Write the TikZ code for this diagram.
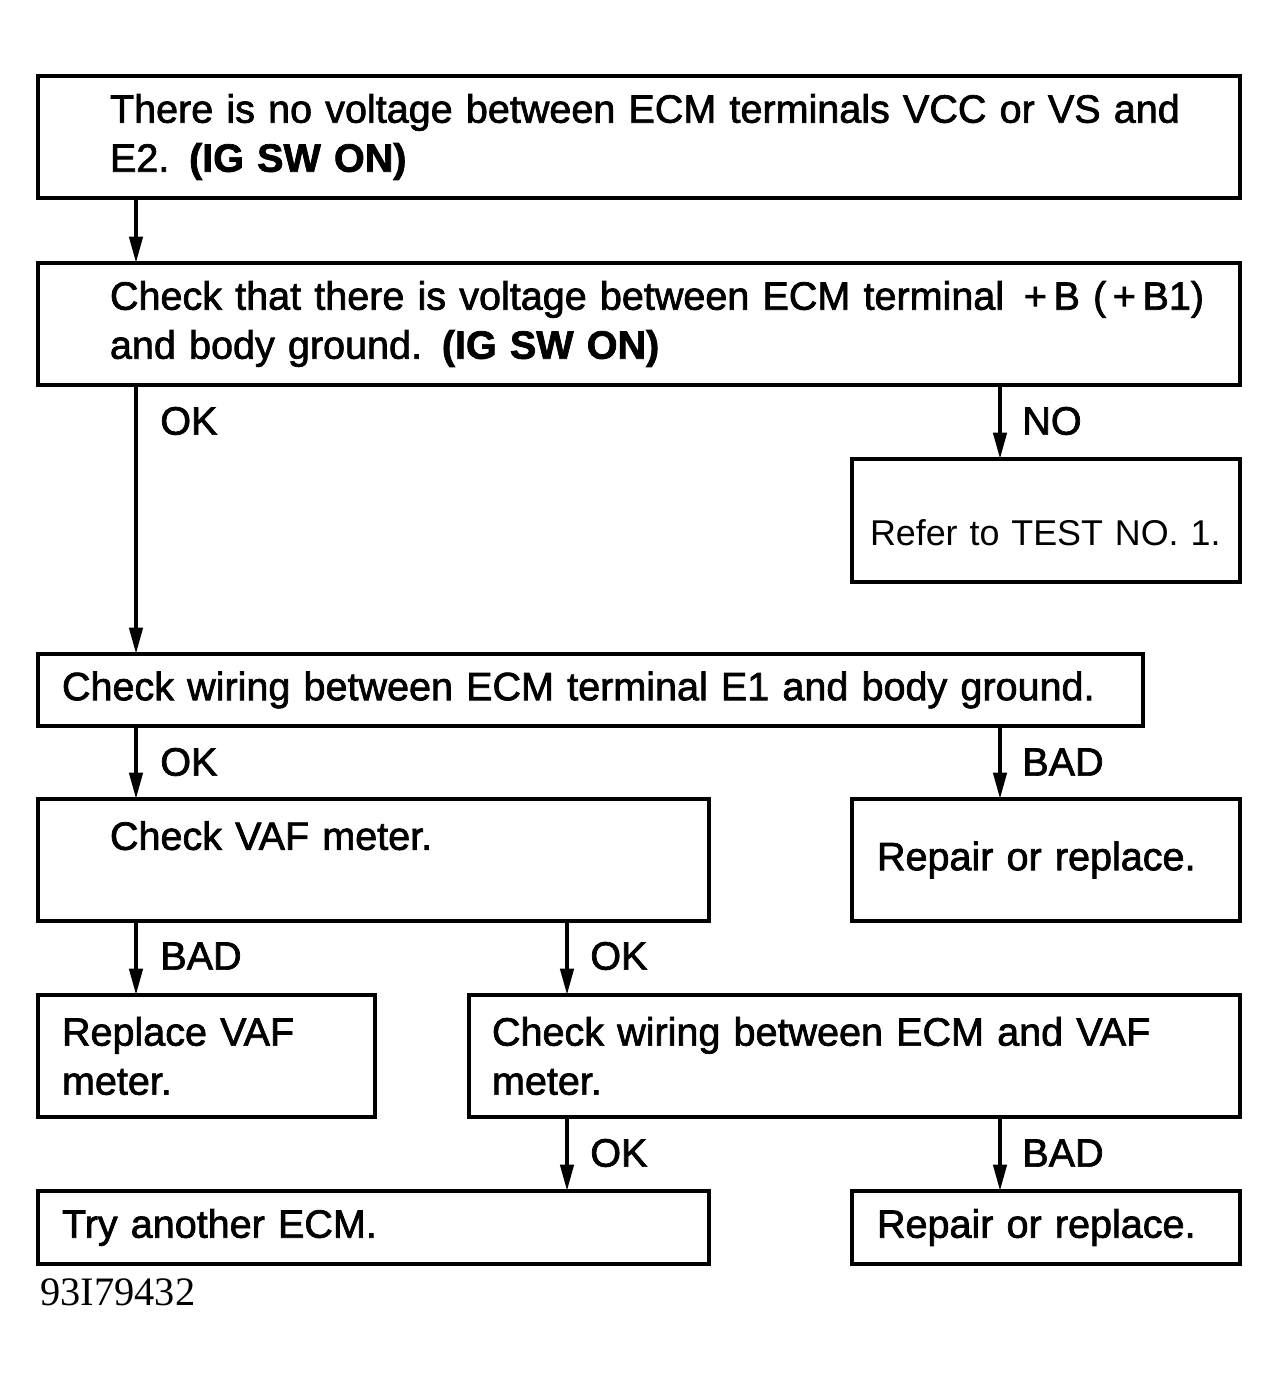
\documentclass[tikz,border=0pt]{standalone}
\usepackage{fontspec}
\usetikzlibrary{arrows.meta}
\newfontfamily\chartfont{Liberation Sans}[FakeBold=1.8]
\newfontfamily\thinfont{Liberation Sans}
\newfontfamily\idfont{Liberation Serif}

\begin{document}
\begin{tikzpicture}[x=0.02cm,y=-0.02cm,
    box/.style n args={4}{draw,black,line width=2.2pt,anchor=north west,align=left,
      inner ysep=0pt,outer sep=0pt,minimum width=#1cm,minimum height=#2cm,
      inner xsep=#3cm,text width=#4cm,font=\chartfont\fontsize{22.5}{27.9}\selectfont},
    arr/.style={black,line width=2.2pt,-{Triangle[length=15pt,width=7.5pt]}},
    lbl/.style={anchor=west,inner sep=0pt,font=\chartfont\fontsize{22.5}{27}\selectfont}]
                    \useasboundingbox (0,0) rectangle (1280,1380);
                    % boxes
                    \node[box={24.04}{2.44}{1.44}{21.16}] (b1) at (38,76)
                        {\mbox{There is no voltage between ECM terminals VCC or VS and}\\E2. \textbf{(IG SW ON)}};
                    \node[box={24.04}{2.44}{1.44}{21.16}] (b2) at (38,263)
                        {\mbox{Check that there is voltage between ECM terminal \,+\,B (\,+\,B1)}\\and body ground. \textbf{(IG SW ON)}};
                    \node[box={7.76}{2.46}{0.36}{7.04},font=\thinfont\fontsize{20.4}{25}\selectfont] (b3) at (852,459)
                        {\raisebox{-0.24cm}[\height][\depth]{\mbox{Refer to TEST NO. 1.}}};
                    \node[box={22.10}{1.44}{0.48}{21.14}] (b4) at (38,654)
                        {\mbox{Check wiring between ECM terminal E1 and body ground.}};
                    \node[box={13.42}{2.44}{1.44}{10.54}] (b5) at (38,799)
                        {Check VAF meter.\\\mbox{}};
                    \node[box={7.76}{2.44}{0.50}{6.76}] (b6) at (852,799)
                        {Repair or replace.};
                    \node[box={6.74}{2.44}{0.48}{5.78}] (b7) at (38,995)
                        {Replace VAF\\meter.};
                    \node[box={15.42}{2.44}{0.46}{14.50}] (b8) at (469,995)
                        {Check wiring between ECM and VAF\\meter.};
                    \node[box={13.42}{1.46}{0.48}{12.46}] (b9) at (38,1191)
                        {Try another ECM.};
                    \node[box={7.76}{1.46}{0.50}{6.76}] (b10) at (852,1191)
                        {Repair or replace.};

                    % connector columns
                    \coordinate (cL) at (136,0);
                    \coordinate (cM) at (567,0);
                    \coordinate (cR) at (1000,0);

                    \draw[arr] (b1.south -| cL) -- (b2.north -| cL);
                    \draw[arr] (b2.south -| cL) -- (b4.north -| cL);
                    \draw[arr] (b2.south -| cR) -- (b3.north -| cR);
                    \draw[arr] (b4.south -| cL) -- (b5.north -| cL);
                    \draw[arr] (b4.south -| cR) -- (b6.north -| cR);
                    \draw[arr] (b5.south -| cL) -- (b7.north -| cL);
                    \draw[arr] (b5.south -| cM) -- (b8.north -| cM);
                    \draw[arr] (b8.south -| cM) -- (b9.north -| cM);
                    \draw[arr] (b8.south -| cR) -- (b10.north -| cR);

                    % labels
                    \node[lbl] (okA) at (160,421) {OK};
                    \node[lbl] (noA) at (1022,421) {NO};
                    \node[lbl] (okB) at (160,762) {OK};
                    \node[lbl] (badB) at (1022,762) {BAD};
                    \node[lbl] (badC) at (160,956) {BAD};
                    \node[lbl] (okC) at (590,956) {OK};
                    \node[lbl] (okD) at (590,1153) {OK};
                    \node[lbl] (badD) at (1022,1153) {BAD};

                    \node[anchor=base west,inner sep=0pt,font=\idfont\fontsize{23}{27}\selectfont] (figno) at (40,1305) {93I79432};
                \end{tikzpicture}
\end{document}
